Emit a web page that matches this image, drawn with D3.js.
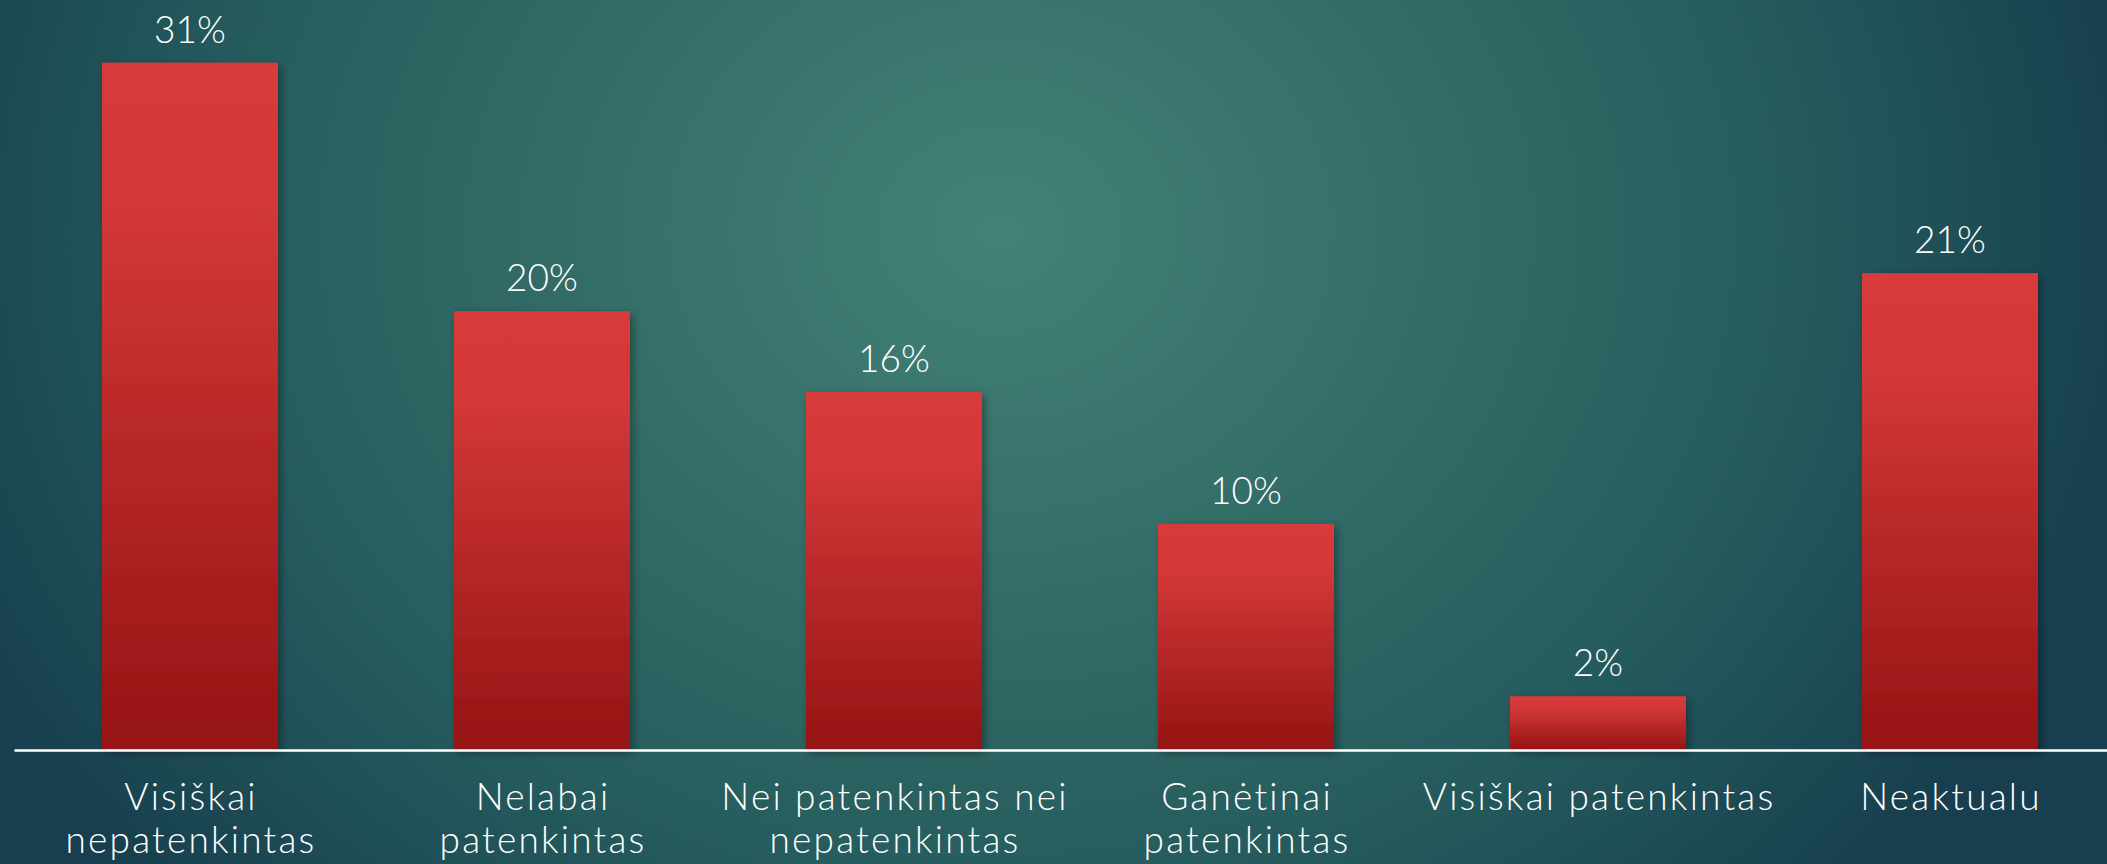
<!DOCTYPE html>
<html>
<head>
<meta charset="utf-8">
<script src="https://cdn.jsdelivr.net/npm/d3@7"></script>
<style>
  html, body { margin: 0; padding: 0; overflow: hidden; background: #2a5f60; }
  svg { display: block; }
  text { font-family: "Century Gothic", "Lato", "Open Sans", sans-serif; font-weight: 300; fill: #ffffff; }
</style>
</head>
<body>
<div id="chart"></div>
<script>
"use strict";
// data
var categories = ["Visiškai nepatenkintas", "Nelabai patenkintas", "Nei patenkintas nei nepatenkintas",
                  "Ganėtinai patenkintas", "Visiškai patenkintas", "Neaktualu"];
var categoryLines = [["Visiškai", "nepatenkintas"], ["Nelabai", "patenkintas"], ["Nei patenkintas nei", "nepatenkintas"],
                     ["Ganėtinai", "patenkintas"], ["Visiškai patenkintas"], ["Neaktualu"]];
var values = [30.7, 19.6, 16.0, 10.1, 2.4, 21.3];

var width = 2107, height = 864;
var baseY = 750;

var svg = d3.select("#chart").append("svg")
    .attr("width", width)
    .attr("height", height);

var defs = svg.append("defs");

var bg = defs.append("radialGradient")
    .attr("id", "bgGrad")
    .attr("gradientUnits", "userSpaceOnUse")
    .attr("cx", 1000).attr("cy", 230).attr("r", 1150)
    .attr("gradientTransform", "translate(1000,230) scale(1,0.85) translate(-1000,-230)");
bg.append("stop").attr("offset", "0").attr("stop-color", "#438276");
bg.append("stop").attr("offset", "0.35").attr("stop-color", "#346e68");
bg.append("stop").attr("offset", "0.7").attr("stop-color", "#245a5c");
bg.append("stop").attr("offset", "1").attr("stop-color", "#173f4f");

var barGrad = defs.append("linearGradient")
    .attr("id", "barGrad")
    .attr("x1", 0).attr("y1", 0).attr("x2", 0).attr("y2", 1);
barGrad.append("stop").attr("offset", "0").attr("stop-color", "#d83a3a");
barGrad.append("stop").attr("offset", "0.2").attr("stop-color", "#d43838");
barGrad.append("stop").attr("offset", "0.6").attr("stop-color", "#b42626");
barGrad.append("stop").attr("offset", "1").attr("stop-color", "#951414");

var shadow = defs.append("filter")
    .attr("id", "barShadow")
    .attr("x", "-10%").attr("y", "-10%").attr("width", "130%").attr("height", "130%");
shadow.append("feDropShadow")
    .attr("dx", 3).attr("dy", 3).attr("stdDeviation", 4)
    .attr("flood-color", "#000").attr("flood-opacity", 0.35);

svg.append("rect")
    .attr("width", width).attr("height", height)
    .attr("fill", "url(#bgGrad)");

var x = d3.scaleBand()
    .domain(categories)
    .range([14, 2126])
    .paddingInner(0.5)
    .paddingOuter(0.25);

var y = d3.scaleLinear()
    .domain([0, 33.5])
    .range([baseY, 0]);

svg.append("g").attr("class", "bars")
    .selectAll("rect")
    .data(values)
    .enter().append("rect")
    .attr("x", function (d, i) { return x(categories[i]); })
    .attr("y", function (d) { return y(d); })
    .attr("width", x.bandwidth())
    .attr("height", function (d) { return y(0) - y(d); })
    .attr("fill", "url(#barGrad)")
    .attr("filter", "url(#barShadow)");

svg.append("g").attr("class", "valueLabels")
    .selectAll("text")
    .data(values)
    .enter().append("text")
    .attr("x", function (d, i) { return x(categories[i]) + x.bandwidth() / 2; })
    .attr("y", function (d) { return y(d) - 20; })
    .attr("text-anchor", "middle")
    .style("font-size", "37px")
    .text(function (d) { return Math.round(d) + "%"; });

var axis = svg.append("g")
    .attr("class", "xAxis")
    .attr("transform", "translate(0," + baseY + ")")
    .call(d3.axisBottom(x).tickSize(0).tickSizeOuter(0).tickFormat(""));
axis.select(".domain")
    .attr("stroke", "#ffffff")
    .attr("stroke-width", 2.5);

axis.selectAll(".tick text").remove();
axis.selectAll(".tick")
    .append("text")
    .attr("text-anchor", "middle")
    .style("font-size", "37px")
    .style("letter-spacing", "2.2px")
    .attr("fill", "#ffffff")
    .each(function (d) {
        var lines = categoryLines[categories.indexOf(d)];
        var t = d3.select(this);
        lines.forEach(function (line, j) {
            t.append("tspan")
                .attr("x", 1)
                .attr("y", 60 + j * 43)
                .text(line);
        });
    });
</script>
</body>
</html>
